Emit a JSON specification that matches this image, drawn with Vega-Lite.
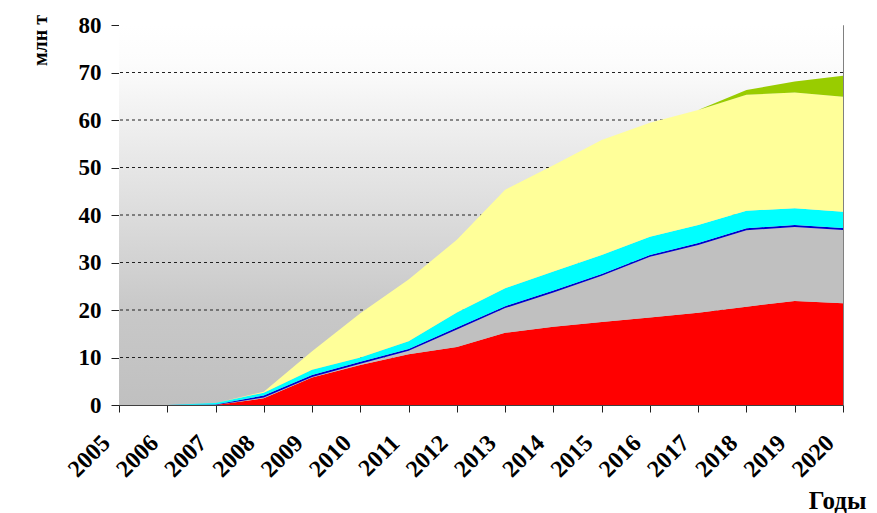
{
  "$schema": "https://vega.github.io/schema/vega-lite/v6.json",
  "width": 724,
  "height": 380,
  "autosize": "none",
  "padding": {"left": 119, "top": 25, "right": 34, "bottom": 108},
  "background": "white",
  "config": {
    "view": {"stroke": "#808080", "strokeWidth": 1},
    "font": "Liberation Serif"
  },
  "layer": [
    {
      "data": {"values": [{}]},
      "mark": {
        "type": "rect",
        "color": {
          "gradient": "linear",
          "x1": 0, "y1": 1, "x2": 0, "y2": 0,
          "stops": [
            {"offset": 0, "color": "#c0c0c0"},
            {"offset": 0.25, "color": "#c8c8c8"},
            {"offset": 0.9, "color": "#fcfcfc"},
            {"offset": 1, "color": "#ffffff"}
          ]
        }
      },
      "encoding": {
        "y": {"datum": 0, "type": "quantitative", "scale": {"domain": [0, 80]}},
        "y2": {"datum": 80}
      }
    },
    {
      "data": {"values": [{"g": 10}, {"g": 20}, {"g": 30}, {"g": 40}, {"g": 50}, {"g": 60}, {"g": 70}]},
      "mark": {"type": "rule", "color": "#202020", "strokeWidth": 1, "strokeDash": [3, 3]},
      "encoding": {
        "y": {"field": "g", "type": "quantitative", "scale": {"domain": [0, 80]}}
      }
    },
    {
      "data": {
        "values": [
          {"year": 2005, "s1": 0, "s2": 0, "s3": 0, "s4": 0, "s5": 0, "s6": 0},
          {"year": 2006, "s1": 0, "s2": 0, "s3": 0, "s4": 0, "s5": 0, "s6": 0},
          {"year": 2007, "s1": 0, "s2": 0, "s3": 0.1, "s4": 0.3, "s5": 0, "s6": 0},
          {"year": 2008, "s1": 1.4, "s2": 0.2, "s3": 0.4, "s4": 0.6, "s5": 0.2, "s6": 0},
          {"year": 2009, "s1": 5.8, "s2": 0.1, "s3": 0.4, "s4": 1.1, "s5": 3.9, "s6": 0},
          {"year": 2010, "s1": 8.4, "s2": 0.3, "s3": 0.4, "s4": 0.9, "s5": 9.3, "s6": 0},
          {"year": 2011, "s1": 10.7, "s2": 0.7, "s3": 0.4, "s4": 1.6, "s5": 13.0, "s6": 0},
          {"year": 2012, "s1": 12.2, "s2": 3.7, "s3": 0.4, "s4": 3.2, "s5": 15.3, "s6": 0},
          {"year": 2013, "s1": 15.2, "s2": 5.2, "s3": 0.4, "s4": 3.8, "s5": 20.7, "s6": 0},
          {"year": 2014, "s1": 16.5, "s2": 7.2, "s3": 0.4, "s4": 4.0, "s5": 22.4, "s6": 0},
          {"year": 2015, "s1": 17.5, "s2": 9.7, "s3": 0.4, "s4": 4.0, "s5": 24.2, "s6": 0},
          {"year": 2016, "s1": 18.4, "s2": 12.8, "s3": 0.4, "s4": 3.8, "s5": 24.0, "s6": 0},
          {"year": 2017, "s1": 19.4, "s2": 14.3, "s3": 0.4, "s4": 3.8, "s5": 24.2, "s6": 0},
          {"year": 2018, "s1": 20.7, "s2": 16.1, "s3": 0.4, "s4": 3.7, "s5": 24.4, "s6": 1.0},
          {"year": 2019, "s1": 21.9, "s2": 15.6, "s3": 0.4, "s4": 3.5, "s5": 24.4, "s6": 2.3},
          {"year": 2020, "s1": 21.4, "s2": 15.45, "s3": 0.4, "s4": 3.45, "s5": 24.2, "s6": 4.4}
        ]
      },
      "transform": [{"fold": ["s1", "s2", "s3", "s4", "s5", "s6"], "as": ["key", "v"]}],
      "mark": {"type": "area", "interpolate": "linear"},
      "encoding": {
        "x": {
          "field": "year",
          "type": "quantitative",
          "scale": {"domain": [2005, 2020], "nice": false, "zero": false},
          "axis": {
            "values": [2005, 2006, 2007, 2008, 2009, 2010, 2011, 2012, 2013, 2014, 2015, 2016, 2017, 2018, 2019, 2020],
            "format": "d",
            "labelAngle": -45,
            "labelAlign": "right",
            "labelBaseline": "middle",
            "labelOffset": -13,
            "labelFont": "Liberation Serif",
            "labelFontWeight": "bold",
            "labelFontSize": 24,
            "labelColor": "black",
            "labelPadding": 27,
            "labelOverlap": false,
            "tickSize": 7,
            "tickColor": "#202020",
            "domainColor": "#404040",
            "grid": false,
            "title": "Годы",
            "titleFont": "Liberation Serif",
            "titleFontWeight": "bold",
            "titleFontSize": 25,
            "titleColor": "black",
            "titleAnchor": "end",
            "titleAlign": "right",
            "titleBaseline": "alphabetic",
            "titleX": 747,
            "titleY": 103
          }
        },
        "y": {
          "field": "v",
          "type": "quantitative",
          "stack": "zero",
          "scale": {"domain": [0, 80], "nice": false},
          "axis": {
            "values": [0, 10, 20, 30, 40, 50, 60, 70, 80],
            "labelFont": "Liberation Serif",
            "labelFontWeight": "bold",
            "labelFontSize": 23,
            "labelColor": "black",
            "labelPadding": 10,
            "tickSize": 8,
            "tickColor": "#202020",
            "domainColor": "#404040",
            "grid": false,
            "title": "млн т",
            "titleFont": "Liberation Serif",
            "titleFontWeight": "bold",
            "titleFontSize": 20,
            "titleColor": "black",
            "titleAngle": -90,
            "titleAlign": "center",
            "titleBaseline": "middle",
            "titleX": -79,
            "titleY": 15
          }
        },
        "color": {
          "field": "key",
          "type": "nominal",
          "scale": {
            "domain": ["s1", "s2", "s3", "s4", "s5", "s6"],
            "range": ["#ff0000", "#c0c0c0", "#0000cc", "#00ffff", "#ffff99", "#99cc00"]
          },
          "legend": null
        },
        "order": {"field": "key", "sort": "ascending"}
      }
    }
  ]
}
